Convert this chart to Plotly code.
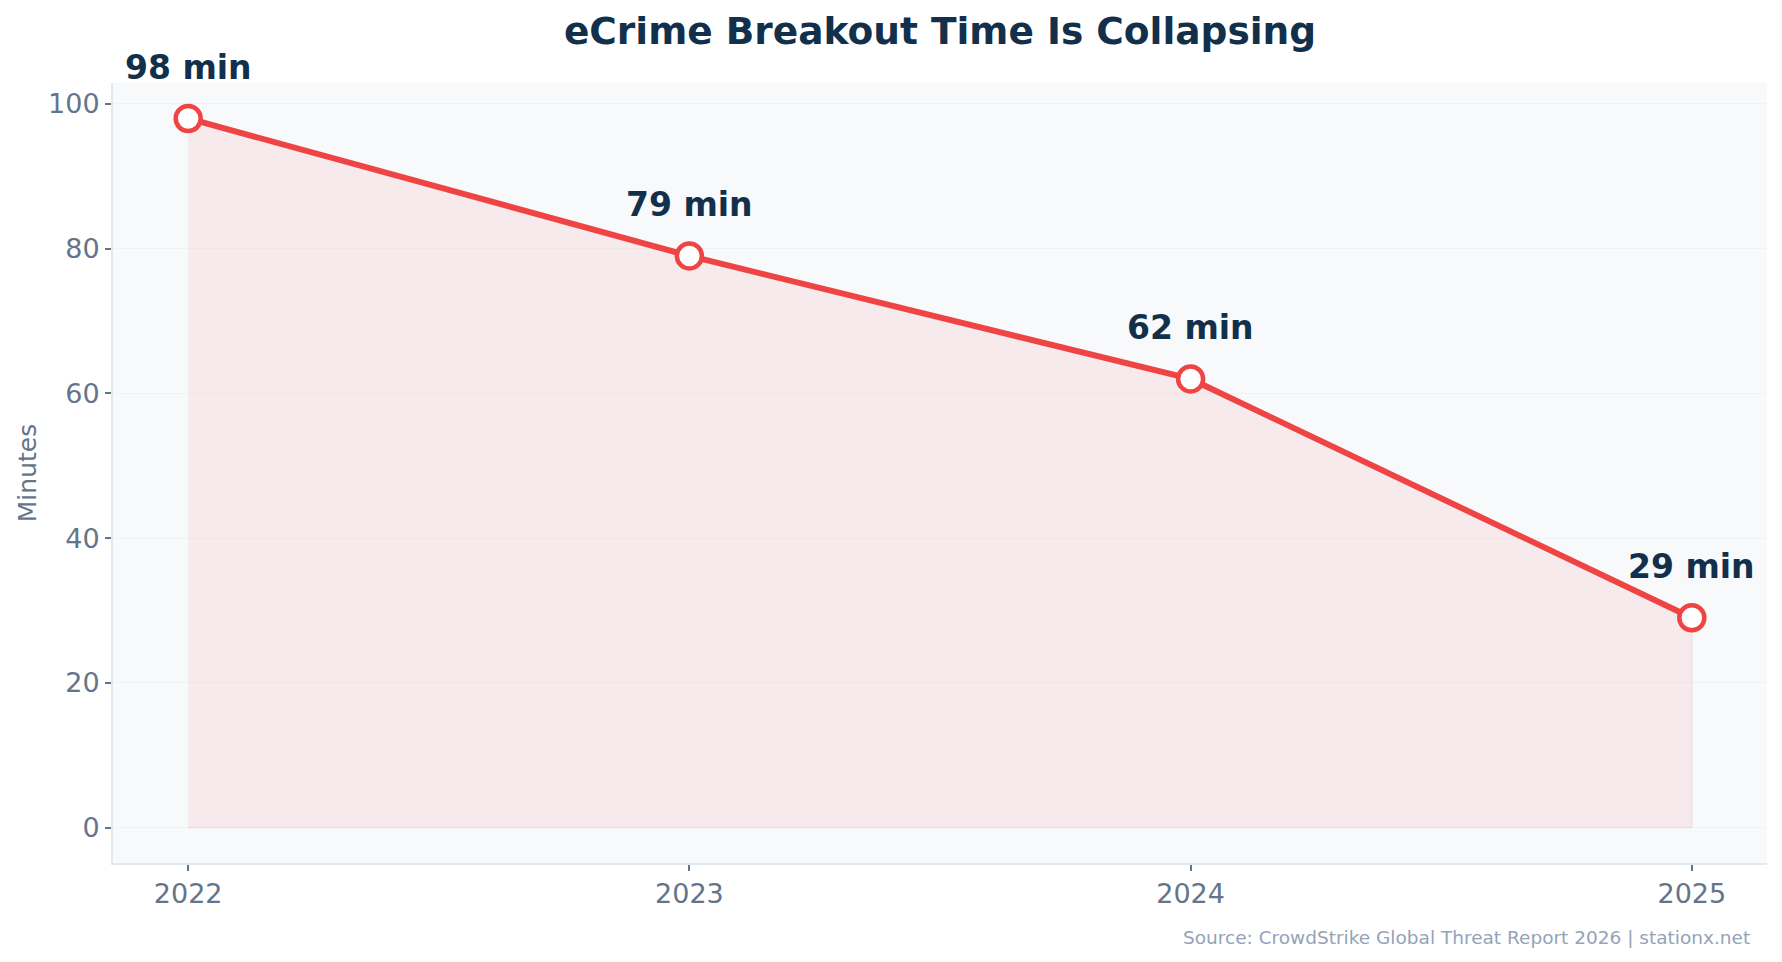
import plotly.graph_objects as go

years = [2022, 2023, 2024, 2025]
minutes = [98, 79, 62, 29]
labels = ["98 min", "79 min", "62 min", "29 min"]
y_ticks = [0, 20, 40, 60, 80, 100]

red = "#ef4444"
navy = "#12304b"
grey = "#64748b"

fig = go.Figure()

# shaded area under the line (polygon down to zero)
fig.add_trace(go.Scatter(
    x=years + years[::-1],
    y=minutes + [0] * len(years),
    fill="toself",
    fillcolor="rgba(239,68,68,0.08)",
    line=dict(color="rgba(239,68,68,0.10)", width=1.5),
    mode="lines",
    hoverinfo="skip",
    showlegend=False,
))

fig.add_trace(go.Scatter(
    x=years,
    y=minutes,
    mode="lines+markers",
    line=dict(color=red, width=6),
    marker=dict(size=25, color="white", line=dict(color=red, width=4.5)),
    showlegend=False,
))

for x, y, t in zip(years, minutes, labels):
    fig.add_annotation(x=x, y=y, text=t, showarrow=False, yanchor="middle", yshift=51,
                       font=dict(family="DejaVu Sans", size=33, color=navy, weight="bold"))

fig.add_annotation(text="Source: CrowdStrike Global Threat Report 2026 | stationx.net",
                   xref="paper", yref="paper", x=1, y=0, xanchor="right", yanchor="middle",
                   xshift=-15, yshift=-74, showarrow=False,
                   font=dict(family="DejaVu Sans", size=18.5, color="#94a3b8"))

fig.update_layout(
    width=1782, height=962,
    margin=dict(l=113, r=15, t=83, b=99),
    paper_bgcolor="white",
    plot_bgcolor="#f8f9fb",
    font=dict(family="DejaVu Sans", color=grey),
    title=dict(text="eCrime Breakout Time Is Collapsing", x=0.5, xref="paper",
               y=1 - 31 / 962, yanchor="middle",
               font=dict(family="DejaVu Sans", size=37.5, color=navy, weight="bold")),
    xaxis=dict(range=[2021.85, 2025.15], tickvals=years, ticktext=[str(y) for y in years],
               showgrid=False, zeroline=False, showline=True, linecolor="#e2e8f0", linewidth=2,
               ticks="outside", ticklen=6, tickcolor=grey, tickwidth=1.5,
               tickfont=dict(size=27, color=grey)),
    yaxis=dict(range=[-4.9, 102.9], tickvals=y_ticks,
               showgrid=True, gridcolor="#f0f2f5", gridwidth=1, zeroline=False,
               showline=True, linecolor="#e2e8f0", linewidth=2,
               ticks="outside", ticklen=6, tickcolor=grey, tickwidth=1.5,
               tickfont=dict(size=27, color=grey),
               title=dict(text="Minutes", font=dict(size=25, color=grey), standoff=4)),
)

fig.write_html("out.html", config={"displayModeBar": False},
               post_script="document.body.style.margin='0';")
